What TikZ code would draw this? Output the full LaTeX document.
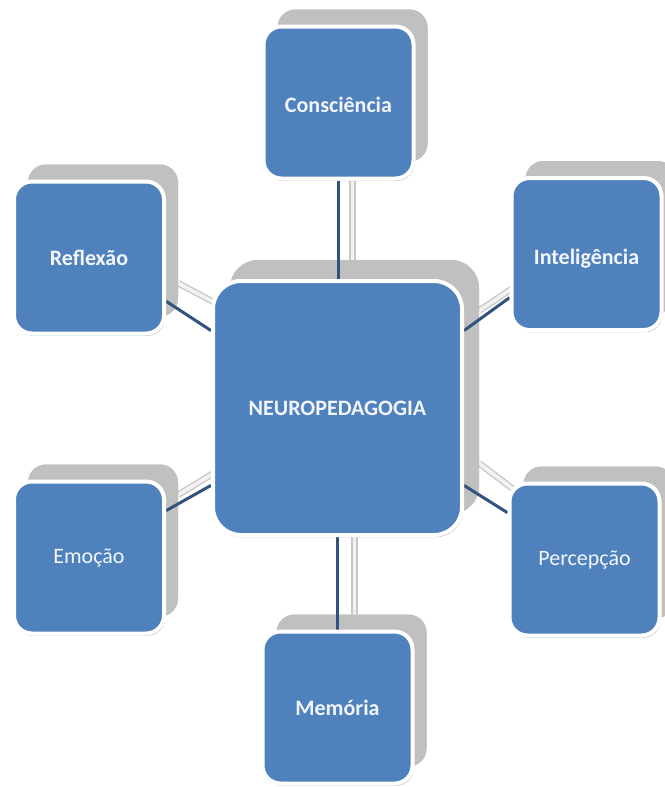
\documentclass[tikz,border=0pt]{standalone}
\usepackage{fontspec}
\setmainfont{Carlito}
\usetikzlibrary{calc}
\definecolor{boxblue}{RGB}{79,129,189}
\definecolor{linkblue}{RGB}{50,82,128}
\definecolor{shadowgray}{RGB}{192,192,192}
\definecolor{txtwhite}{RGB}{242,246,252}
\begin{document}
\begin{tikzpicture}[x=1pt,y=-1pt,
  smallbox/.style={rectangle, rounded corners=18pt, fill=boxblue, draw=white, line width=4pt,
    minimum width=150pt, minimum height=152pt, text=txtwhite, inner sep=0pt,
    preaction={fill=black!22, transform canvas={xshift=1.2pt,yshift=-2.2pt}},
    font=\fontsize{22}{26}\selectfont\bfseries},
  bigbox/.style={smallbox, rounded corners=28pt, minimum width=249pt, minimum height=254pt},
  lightfont/.style={font=\fontsize{22}{26}\selectfont},
  boxlabel/.style={text=txtwhite, font=\fontsize{22}{26}\selectfont\bfseries, inner sep=0pt},
  placeholder/.style={draw=none, fill=none, preaction={}},
  shadowsmall/.style={rectangle, rounded corners=18pt, fill=shadowgray, draw=none,
    minimum width=150pt, minimum height=152pt, inner sep=0pt},
  shadowbig/.style={shadowsmall, rounded corners=28pt, minimum width=249pt, minimum height=254pt},
  link/.style={draw=linkblue, line width=3pt},
  shadowlink/.style={draw=black!22, line width=6.5pt, postaction={draw=black!5, line width=3.8pt}}
]
\useasboundingbox (0,0) rectangle (664,787);
\fill[white] (0,0) rectangle (664,787);

% shadow layer
\node[shadowbig]   (scen)  at (354.5,387) {};
\node[shadowsmall] (scons) at (352.5,85.5) {};
\node[shadowsmall] (srefl) at (103,240.5) {};
\node[shadowsmall] (sint)  at (600.5,237) {};
\node[shadowsmall] (semo)  at (103,540.5) {};
\node[shadowsmall] (sper)  at (598.5,542.5) {};
\node[shadowsmall] (smem)  at (351.5,690.5) {};

% shadow connectors
\draw[shadowlink, xshift=-2.5pt] (scons.south) -- (scons.south |- scen.north);
\draw[shadowlink, xshift=-3pt] (scen.south) -- (scen.south |- smem.north);
\draw[shadowlink] ($(srefl.north east)!0.78!(srefl.south east)$) -- ($(scen.north west)!0.2!(scen.south west)$);
\draw[shadowlink] ($(sint.north west)!0.78!(sint.south west)$) -- ($(scen.north east)!0.2!(scen.south east)$);
\draw[shadowlink] ($(semo.north east)!0.2!(semo.south east)$) -- ($(scen.north west)!0.8!(scen.south west)$);
\draw[shadowlink] ($(sper.north west)!0.2!(sper.south west)$) -- ($(scen.north east)!0.8!(scen.south east)$);

% redraw shadow boxes over connector ends
\node[shadowbig]   at (scen)  {};
\node[shadowsmall] at (scons) {};
\node[shadowsmall] at (srefl) {};
\node[shadowsmall] at (sint)  {};
\node[shadowsmall] at (semo)  {};
\node[shadowsmall] at (sper)  {};
\node[shadowsmall] at (smem)  {};

% main box outlines (named, invisible) for connector anchoring
\node[bigbox, placeholder]   (cen)  at (337.5,408) {};
\node[smallbox, placeholder] (cons) at (338.5,102.5) {};
\node[smallbox, placeholder] (refl) at (89,257.5) {};
\node[smallbox, placeholder] (int)  at (586.5,254) {};
\node[smallbox, placeholder] (emo)  at (89,557.5) {};
\node[smallbox, placeholder] (per)  at (584.5,559.5) {};
\node[smallbox, placeholder] (mem)  at (337.5,707.5) {};

% blue connectors
\draw[link, xshift=-2.5pt] (cons.south) -- (cons.south |- cen.north);
\draw[link, xshift=-1.5pt] (cen.south) -- (cen.south |- mem.north);
\draw[link] ($(refl.north east)!0.78!(refl.south east)$) -- ($(cen.north west)!0.2!(cen.south west)$);
\draw[link] ($(int.north west)!0.78!(int.south west)$) -- ($(cen.north east)!0.2!(cen.south east)$);
\draw[link] ($(emo.north east)!0.2!(emo.south east)$) -- ($(cen.north west)!0.8!(cen.south west)$);
\draw[link] ($(per.north west)!0.2!(per.south west)$) -- ($(cen.north east)!0.8!(cen.south east)$);

% blue boxes with text
\node[bigbox]   at (cen)  {NEUROPEDAGOGIA};
\node[smallbox, label={[boxlabel, yshift=-2pt]center:Consciência}] at (cons) {};
\node[smallbox] at (refl) {Reflexão};
\node[smallbox, label={[boxlabel, yshift=-5pt]center:Inteligência}] at (int) {};
\node[smallbox, lightfont] at (emo) {Emoção};
\node[smallbox, lightfont] at (per) {Percepção};
\node[smallbox] at (mem)  {Memória};
\end{tikzpicture}
\end{document}
